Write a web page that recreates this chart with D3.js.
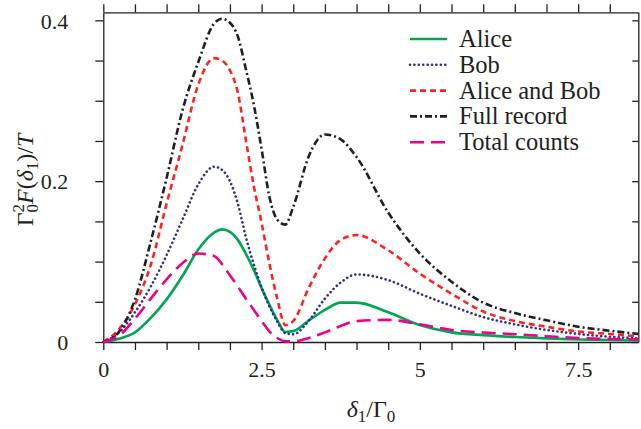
<!DOCTYPE html>
<html>
<head>
<meta charset="utf-8">
<script src="https://cdn.jsdelivr.net/npm/d3@7"></script>
</head>
<body style="margin:0">
<svg id="fig" width="641" height="429" font-family="Liberation Serif"></svg>
<script>
// detuning grid (delta_1 / Gamma_0) and curves
var delta=[0,0.25,0.5,0.75,1,1.25,1.5,1.75,1.875,2,2.125,2.25,2.375,2.5,2.625,2.75,2.875,3,3.25,3.5,3.75,4,4.5,5,5.5,6,6.5,7,7.5,8,8.45]
var alice=[0,0.004,0.012,0.030,0.053,0.082,0.115,0.136,0.140,0.137,0.127,0.110,0.090,0.067,0.046,0.027,0.0125,0.0135,0.027,0.040,0.049,0.049,0.037,0.021,0.012,0.0085,0.0062,0.0045,0.0032,0.0024,0.0018]
var bob=[0,0.012,0.037,0.069,0.108,0.152,0.196,0.218,0.214,0.200,0.172,0.131,0.097,0.068,0.044,0.025,0.011,0.0095,0.027,0.054,0.074,0.084,0.077,0.060,0.045,0.031,0.022,0.015,0.010,0.0065,0.0045]
var aliceBob=[0,0.016,0.047,0.096,0.172,0.245,0.320,0.353,0.350,0.338,0.310,0.252,0.195,0.148,0.097,0.053,0.021,0.026,0.068,0.104,0.127,0.133,0.114,0.085,0.060,0.038,0.026,0.019,0.013,0.010,0.007]
var fullRecord=[0,0.013,0.053,0.125,0.204,0.288,0.348,0.396,0.402,0.397,0.380,0.340,0.296,0.240,0.180,0.152,0.146,0.168,0.232,0.258,0.252,0.230,0.161,0.110,0.075,0.049,0.036,0.027,0.019,0.014,0.010]
var totalCounts=[0,0.008,0.029,0.054,0.078,0.098,0.110,0.107,0.097,0.083,0.069,0.054,0.040,0.026,0.013,0.005,0.0008,0.0008,0.005,0.012,0.020,0.026,0.0275,0.022,0.015,0.0118,0.0097,0.0072,0.005,0.0038,0.0032]
var names=["Alice","Bob","Alice and Bob","Full record","Total counts"]
var xMajor=[0,2.5,5,7.5]
var yMajor=[0,0.2,0.4]

var series=[alice,bob,aliceBob,fullRecord,totalCounts]
var styles=[
  {c:"#00a651",dash:null,cap:"butt"},
  {c:"#2e3192",dash:"0.1,4.3",cap:"round"},
  {c:"#ff2222",dash:"6,4",cap:"butt"},
  {c:"#231f20",dash:"7,3,2,3",cap:"butt"},
  {c:"#ec008c",dash:"14,7",cap:"butt"}
]
var FONT="Liberation Serif"

var svg=d3.select("#fig")
var L=103.3,R=638.3,T=12.3,B=342
var x=d3.scaleLinear().domain([0,8.45]).range([L,R])
var y=d3.scaleLinear().domain([0,0.41]).range([B,T])

var fmtX=d=>xMajor.some(v=>Math.abs(v-d)<1e-6)?String(d):""
var fmtY=d=>yMajor.some(v=>Math.abs(v-d)<1e-6)?(d==0?"0":d.toFixed(1)):""
var xt=d3.range(0,8.45,0.5), yt=d3.range(0,0.41,0.05)

var gx=svg.append("g").attr("transform","translate(0,"+B+")")
  .call(d3.axisBottom(x).tickValues(xt).tickFormat(fmtX).tickSizeInner(8).tickSizeOuter(0).tickPadding(10))
var gy=svg.append("g").attr("transform","translate("+L+",0)")
  .call(d3.axisLeft(y).tickValues(yt).tickFormat(fmtY).tickSizeInner(8).tickSizeOuter(0).tickPadding(27))
svg.append("g").attr("transform","translate(0,"+T+")")
  .call(d3.axisTop(x).tickValues(xt).tickFormat("").tickSizeInner(8).tickSizeOuter(0))
svg.append("g").attr("transform","translate("+R+",0)")
  .call(d3.axisLeft(y).tickValues(yt).tickFormat("").tickSizeInner(6).tickSizeOuter(0))
svg.selectAll("g").attr("font-family",FONT).attr("font-size",22)
svg.selectAll(".domain,.tick line").attr("stroke","#231f20").attr("stroke-width",1.3)
gx.selectAll(".tick text").attr("dy","0.75em")
gy.selectAll(".tick text").attr("dy","0.35em")

var line=d3.line().x((d,i)=>x(delta[i])).y(d=>y(d)).curve(d3.curveMonotoneX)
series.forEach(function(s,k){
  svg.append("path").datum(s).attr("d",line)
    .attr("fill","none").attr("stroke",styles[k].c).attr("stroke-width",2.6)
    .attr("stroke-dasharray",styles[k].dash).attr("stroke-linecap",styles[k].cap)
})

// legend
var lg=svg.append("g")
names.forEach(function(n,k){
  var yy=39+k*25.8
  lg.append("line").attr("x1",410).attr("x2",447).attr("y1",yy).attr("y2",yy)
    .attr("stroke",styles[k].c).attr("stroke-width",2.6)
    .attr("stroke-dasharray",styles[k].dash).attr("stroke-linecap",styles[k].cap)
  lg.append("text").attr("x",459).attr("y",yy+8).attr("font-size",24.5).text(n)
})

// axis labels
var xl=svg.append("text").attr("x",371).attr("y",417).attr("text-anchor","middle").attr("font-size",24)
xl.append("tspan").attr("font-style","italic").text("δ")
xl.append("tspan").attr("dy",5).attr("font-size",17).text("1")
xl.append("tspan").attr("dy",-5).text("/Γ")
xl.append("tspan").attr("dy",5).attr("font-size",17).text("0")

var yl=svg.append("text").attr("transform","translate(33,180) rotate(-90)").attr("text-anchor","middle").attr("font-size",24)
yl.append("tspan").text("Γ")
yl.append("tspan").attr("dy",5).attr("font-size",17).text("0")
yl.append("tspan").attr("dx",-8.5).attr("dy",-14).attr("font-size",17).text("2")
yl.append("tspan").attr("dy",9).attr("font-style","italic").text("F")
yl.append("tspan").text("(")
yl.append("tspan").attr("font-style","italic").text("δ")
yl.append("tspan").attr("dy",5).attr("font-size",17).text("1")
yl.append("tspan").attr("dy",-5).text(")/")
yl.append("tspan").attr("font-style","italic").text("T")

svg.selectAll("text").attr("fill","#231f20").style("font-family",FONT,"important")
</script>
</body>
</html>
